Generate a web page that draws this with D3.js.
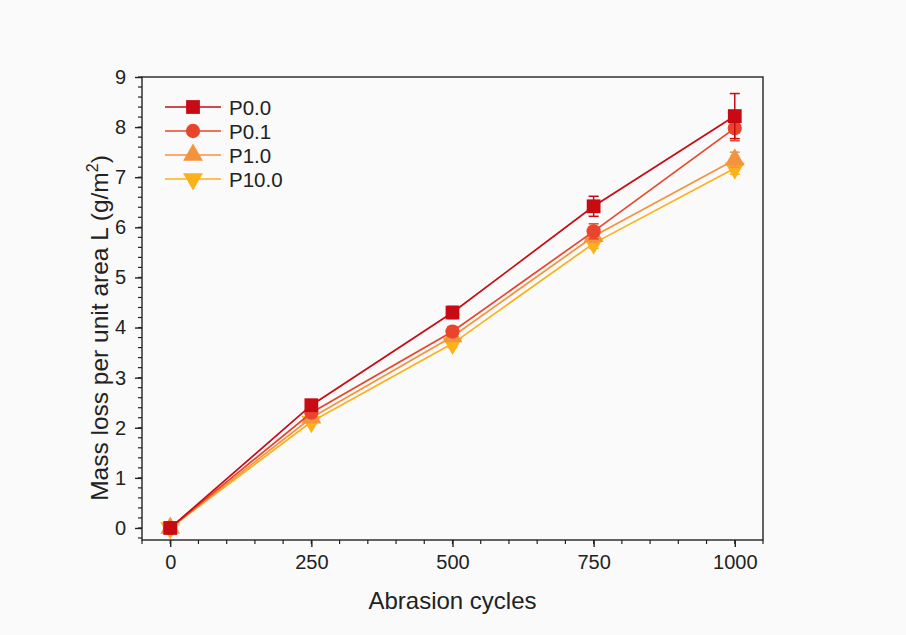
<!DOCTYPE html>
<html>
<head>
<style>
body{
    margin: 0;
    background: #fafafa;
}
text{
    font-family: "Liberation Sans", Arial, sans-serif;
}
</style>
</head>
<body>
<svg id="chart"></svg>
<script src="https://cdn.jsdelivr.net/npm/d3@7"></script>
<script>
// data
var cycles = [0, 250, 500, 750, 1000];
var seriesNames = ['P0.0', 'P0.1', 'P1.0', 'P10.0'];
var p00 = [0, 2.45, 4.30, 6.42, 8.22];
var p01 = [0, 2.30, 3.92, 5.92, 7.98];
var p10 = [0, 2.20, 3.82, 5.82, 7.35];
var p100 = [0, 2.12, 3.68, 5.68, 7.18];
var p00err = [0.05, 0.07, 0.12, 0.2, 0.45];
var p01err = [0.05, 0.06, 0.10, 0.15, 0.25];
var p10err = [0.05, 0.06, 0.08, 0.12, 0.15];
var p100err = [0.05, 0.05, 0.08, 0.1, 0.12];
var xTicks = [0, 250, 500, 750, 1000];
var yTicks = [0, 1, 2, 3, 4, 5, 6, 7, 8, 9];

var colors = ['#c80a14', '#e8452c', '#f4933e', '#fbb11a'];
var shapes = [d3.symbolSquare, d3.symbolCircle, d3.symbolTriangle, 'down'];
var sizes = [190, 160, 170, 170];

var width = 906, height = 635;
var margin = {top: 77, right: 143, bottom: 95, left: 142};

var svg = d3.select('#chart').attr('width', width).attr('height', height);

var x = d3.scaleLinear().domain([-50, 1050]).range([margin.left, width - margin.right]);
var y = d3.scaleLinear().domain([-0.24, 9]).range([height - margin.bottom, margin.top]);

// frame
svg.append('rect')
    .attr('x', margin.left).attr('y', margin.top)
    .attr('width', width - margin.left - margin.right)
    .attr('height', height - margin.top - margin.bottom)
    .attr('fill', 'none').attr('stroke', '#222').attr('stroke-width', 1.4);

// minor ticks
var xMinor = d3.range(-50, 1051, 50);
svg.append('g').selectAll('line').data(xMinor).enter().append('line')
    .attr('x1', function (d) { return x(d); }).attr('x2', function (d) { return x(d); })
    .attr('y1', y.range()[0]).attr('y2', y.range()[0] + 4)
    .attr('stroke', '#222').attr('stroke-width', 1.2);
var yMinor = d3.range(-0.2, 9.01, 0.2);
svg.append('g').selectAll('line').data(yMinor).enter().append('line')
    .attr('y1', function (d) { return y(d); }).attr('y2', function (d) { return y(d); })
    .attr('x1', margin.left).attr('x2', margin.left - 4)
    .attr('stroke', '#222').attr('stroke-width', 1.2);

// axes
var xAxis = svg.append('g')
    .attr('transform', 'translate(0,' + y.range()[0] + ')')
    .call(d3.axisBottom(x).tickValues(xTicks).tickFormat(d3.format('d')).tickSize(7).tickPadding(8));
var yAxis = svg.append('g')
    .attr('transform', 'translate(' + margin.left + ',0)')
    .call(d3.axisLeft(y).tickValues(yTicks).tickSize(7).tickPadding(9));
[xAxis, yAxis].forEach(function (a) {
    a.select('.domain').remove();
    a.selectAll('line').attr('stroke', '#222').attr('stroke-width', 1.4);
    a.selectAll('text').attr('font-size', 20).attr('fill', '#222');
});

// axis titles
svg.append('text')
    .attr('x', (x.range()[0] + x.range()[1]) / 2).attr('y', 609)
    .attr('text-anchor', 'middle').attr('font-size', 24).attr('fill', '#222')
    .text('Abrasion cycles');
var yt = svg.append('text')
    .attr('transform', 'translate(108,328) rotate(-90)')
    .attr('text-anchor', 'middle').attr('font-size', 24.5).attr('fill', '#222');
yt.append('tspan').text('Mass loss per unit area L (g/m');
yt.append('tspan').attr('font-size', 16).attr('dy', -10).text('2');
yt.append('tspan').attr('dy', 10).text(')');

function symbolPath(i) {
    var t = shapes[i] === 'down' ? d3.symbolTriangle : shapes[i];
    return d3.symbol().type(t).size(sizes[i])();
}
function symbolRotate(i) {
    return shapes[i] === 'down' ? ' rotate(180)' : '';
}

var allValues = [p00, p01, p10, p100];
var allErrs = [p00err, p01err, p10err, p100err];
var line = d3.line().x(function (d) { return x(d[0]); }).y(function (d) { return y(d[1]); });

// draw back to front so P0.0 sits on top
for (var i = 3; i >= 0; i--) {
    var pts = cycles.map(function (c, j) { return [c, allValues[i][j], allErrs[i][j]]; });
    var g = svg.append('g');
    g.append('path').datum(pts).attr('d', line)
        .attr('fill', 'none').attr('stroke', colors[i]).attr('stroke-width', 1.7);
    var eb = g.selectAll('.err').data(pts).enter().append('g');
    eb.append('line')
        .attr('x1', function (d) { return x(d[0]); }).attr('x2', function (d) { return x(d[0]); })
        .attr('y1', function (d) { return y(d[1] - d[2]); }).attr('y2', function (d) { return y(d[1] + d[2]); })
        .attr('stroke', colors[i]).attr('stroke-width', 1.5);
    [-1, 1].forEach(function (s) {
        eb.append('line')
            .attr('x1', function (d) { return x(d[0]) - 5; }).attr('x2', function (d) { return x(d[0]) + 5; })
            .attr('y1', function (d) { return y(d[1] + s * d[2]); }).attr('y2', function (d) { return y(d[1] + s * d[2]); })
            .attr('stroke', colors[i]).attr('stroke-width', 1.5);
    });
    g.selectAll('.pt').data(pts).enter().append('path')
        .attr('d', symbolPath(i))
        .attr('transform', function (d) { return 'translate(' + x(d[0]) + ',' + y(d[1]) + ')' + symbolRotate(i); })
        .attr('fill', colors[i]);
}

// legend
var legend = svg.append('g');
seriesNames.forEach(function (name, i) {
    var ly = 107 + i * 24;
    legend.append('line').attr('x1', 165).attr('x2', 221).attr('y1', ly).attr('y2', ly)
        .attr('stroke', colors[i]).attr('stroke-width', 1.7);
    legend.append('path').attr('d', symbolPath(i))
        .attr('transform', 'translate(193,' + ly + ')' + symbolRotate(i))
        .attr('fill', colors[i]);
    legend.append('text').attr('x', 229).attr('y', ly + 8)
        .attr('font-size', 20.5).attr('fill', '#222').text(name);
});
</script>
</body>
</html>
